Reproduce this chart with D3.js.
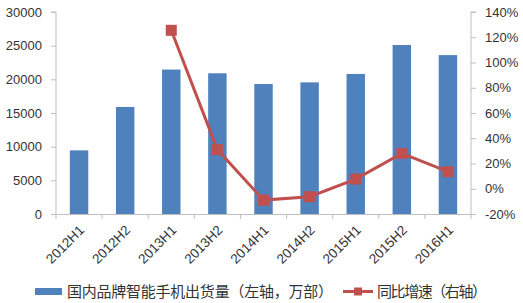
<!DOCTYPE html>
<html><head><meta charset="utf-8">
<script src="https://cdn.jsdelivr.net/npm/d3@7"></script>
<style>body{margin:0;background:#fff}svg{display:block}</style>
</head><body>
<svg id="c" width="523" height="303"></svg>
<script>
const categories = ["2012H1","2012H2","2013H1","2013H2","2014H1","2014H2","2015H1","2015H2","2016H1"];
const shipments = [9450,15900,21450,20900,19300,19550,20800,25100,23600];
const growth = [null,null,125.5,31,-9,-6.3,7.7,28,13.5];
const leftTicks = [0,5000,10000,15000,20000,25000,30000];
const rightTicks = [-20,0,20,40,60,80,100,120,140];
const seriesNames = ["国内品牌智能手机出货量（左轴，万部）","同比增速（右轴）"];

const svg = d3.select("#c");
const L=56, R=471, T=12, B=214;
const axisColor="#bfbfbf", textColor="#333", barColor="#4f81bd", lineColor="#c0504d";
const font="'Liberation Sans', Arial, sans-serif";
const cjk="'Noto Sans CJK SC', sans-serif";

const x = d3.scaleBand().domain(categories).range([L,R]).paddingInner(0.6).paddingOuter(0.3);
const xt = d3.scaleBand().domain(categories).range([L,R]);
const yL = d3.scaleLinear().domain([0,30000]).range([B,T]);
const yR = d3.scaleLinear().domain([-20,140]).range([B,T]);

// bars
svg.append("g").selectAll("rect").data(categories).join("rect")
  .attr("x",(d)=>x(d)).attr("width",x.bandwidth())
  .attr("y",(d,i)=>yL(shipments[i])).attr("height",(d,i)=>B-yL(shipments[i]))
  .attr("fill",barColor);

// left axis
const gl = svg.append("g").attr("transform",`translate(${L},0)`)
  .call(d3.axisLeft(yL).tickValues(leftTicks).tickSize(5).tickPadding(9).tickFormat(d3.format("d")));
// right axis
const gr = svg.append("g").attr("transform",`translate(${R},0)`)
  .call(d3.axisRight(yR).tickValues(rightTicks).tickSize(5).tickPadding(9).tickFormat(d=>d+"%"));
// bottom axis
const gb = svg.append("g").attr("transform",`translate(0,${B})`)
  .call(d3.axisBottom(xt).tickSize(0).tickFormat(""));
// category boundary ticks
const bounds = categories.map(c=>xt(c)).concat([R]);
svg.append("g").selectAll("line").data(bounds).join("line")
  .attr("x1",d=>d).attr("x2",d=>d).attr("y1",B).attr("y2",B+5)
  .attr("stroke",axisColor);
[gl,gr,gb].forEach(g=>{
  g.select(".domain").attr("stroke",axisColor).attr("stroke-width",1);
  g.selectAll(".tick line").attr("stroke",axisColor);
  g.selectAll("text").attr("font-family",font).attr("font-size",13).attr("fill",textColor);
});
gl.select(".domain").attr("d",`M-5,${T}H0V${B}`);
gr.select(".domain").attr("d",`M5,${T}H0V${B}`);

// x labels
svg.append("g").selectAll("text").data(categories).join("text")
  .attr("transform",d=>`translate(${xt(d)+xt.bandwidth()/2+6},${B+17}) rotate(-45)`)
  .attr("text-anchor","end").attr("font-family",font).attr("font-size",13.5).attr("fill",textColor)
  .text(d=>d);

// line
const pts = categories.map((c,i)=>({c,v:growth[i]})).filter(d=>d.v!==null);
const cx = d=>xt(d.c)+xt.bandwidth()/2;
svg.append("path").datum(pts)
  .attr("d",d3.line().x(cx).y(d=>yR(d.v)))
  .attr("fill","none").attr("stroke",lineColor).attr("stroke-width",3);
svg.append("g").selectAll("rect").data(pts).join("rect")
  .attr("x",d=>cx(d)-5.5).attr("y",d=>yR(d.v)-5.5).attr("width",11).attr("height",11)
  .attr("fill",lineColor);

// legend
const lg = svg.append("g");
lg.append("rect").attr("x",35).attr("y",288).attr("width",27).attr("height",7).attr("fill",barColor);
lg.append("text").attr("x",67).attr("y",297).attr("font-family",cjk).attr("font-size",15)
  .attr("textLength",266).attr("lengthAdjust","spacing").attr("fill",textColor).text(seriesNames[0]);
lg.append("line").attr("x1",343).attr("x2",373).attr("y1",291.5).attr("y2",291.5).attr("stroke",lineColor).attr("stroke-width",3);
lg.append("rect").attr("x",354).attr("y",287.5).attr("width",8).attr("height",8).attr("fill",lineColor);
lg.append("text").attr("x",377).attr("y",297).attr("font-family",cjk).attr("font-size",15)
  .attr("textLength",110).attr("lengthAdjust","spacing").attr("fill",textColor).text(seriesNames[1]);
</script>
</body></html>
